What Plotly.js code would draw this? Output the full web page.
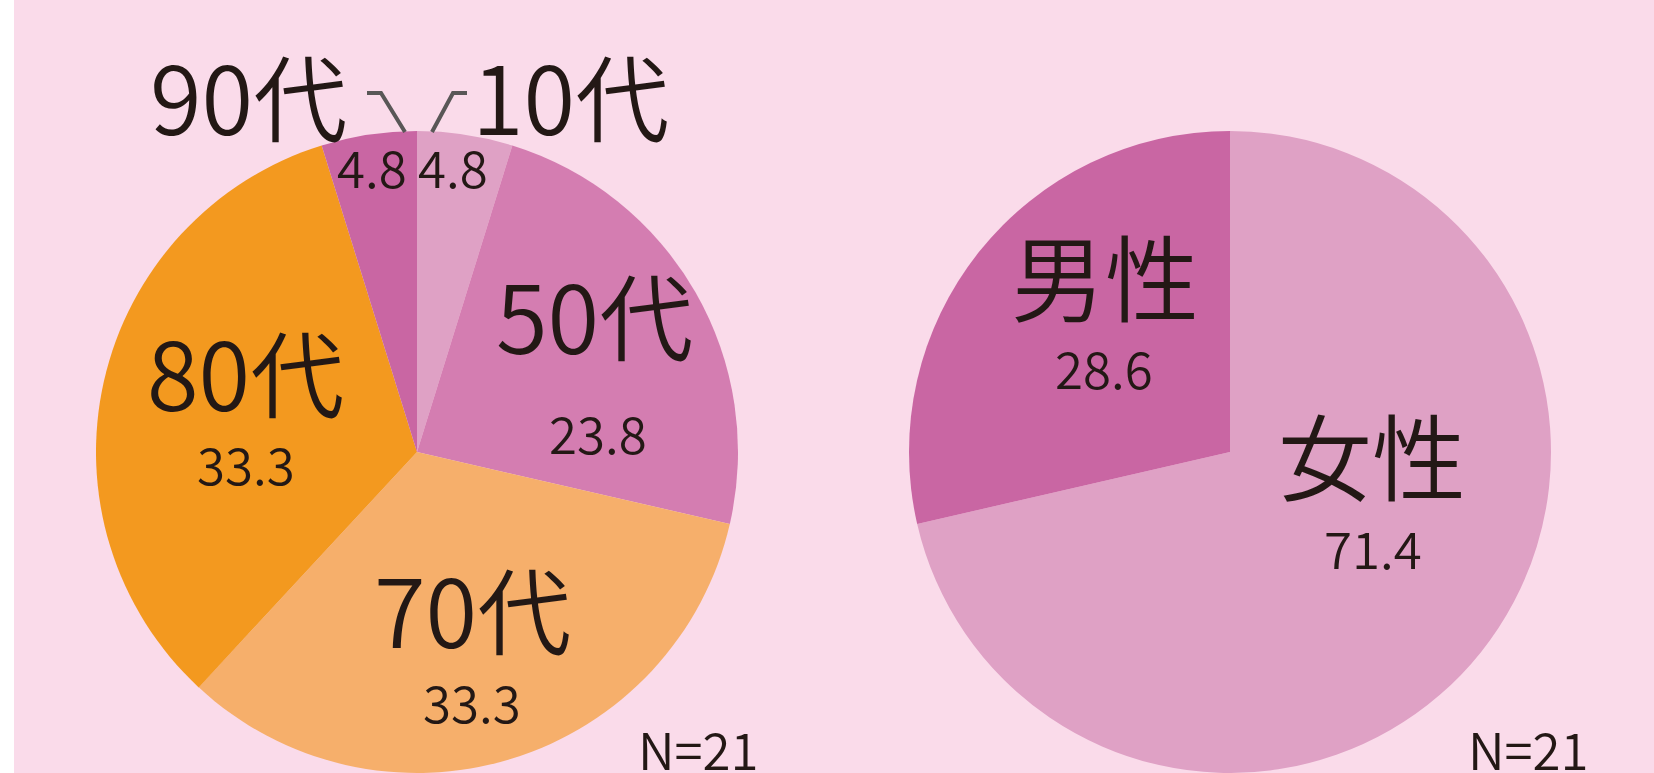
<!DOCTYPE html>
<html>
<head>
<meta charset="utf-8">
<script src="https://cdn.plot.ly/plotly-3.0.1.min.js"></script>
<style>
html,body{margin:0;padding:0;overflow:hidden;background:#ffffff;}
#chart{width:1654px;height:773px;}
</style>
</head>
<body>
<div id="chart"></div>
<script>
// ---- data ----
const ageLabels = ["10代", "50代", "70代", "80代", "90代"];
const ageValues = [4.8, 23.8, 33.3, 33.3, 4.8];
const sexLabels = ["女性", "男性"];
const sexValues = [71.4, 28.6];
const sampleNote = "N=21";

// ---- styles ----
const W = 1654, H = 773;
const ageColors = ["#DFA1C5", "#D47DB1", "#F6AF6B", "#F3991F", "#C966A3"];
const sexColors = ["#DFA1C5", "#C966A3"];
const bg = "#FADBEA";
const ink = "#231815";
const FONT = "Noto Sans CJK JP, Noto Sans, sans-serif";
const px = x => x / W;
const py = y => 1 - y / H;

const traces = [
  {
    type: "pie", labels: ageLabels, values: ageValues, sort: false,
    direction: "clockwise", rotation: 0,
    marker: {colors: ageColors, line: {width: 0}},
    textinfo: "none", hoverinfo: "label+value", showlegend: false,
    domain: {x: [px(96), px(738)], y: [0, py(131)]}
  },
  {
    type: "pie", labels: sexLabels, values: sexValues, sort: false,
    direction: "clockwise", rotation: 0,
    marker: {colors: sexColors, line: {width: 0}},
    textinfo: "none", hoverinfo: "label+value", showlegend: false,
    domain: {x: [px(909), px(1551)], y: [0, py(131)]}
  }
];

// label placement (pixel centres) : [text, x, y, size]
const BIG = 94, SMALL = 51;
const labelPos = [
  [ageLabels[0], 570, 94, BIG],
  [ageLabels[4], 248, 94, BIG],
  [ageValues[4].toFixed(1), 372, 166, SMALL],
  [ageValues[0].toFixed(1), 453, 166, SMALL],
  [ageLabels[1], 594, 313, BIG],
  [ageValues[1].toFixed(1), 598, 432, SMALL],
  [ageLabels[3], 245, 370, BIG],
  [ageValues[3].toFixed(1), 246, 463, SMALL],
  [ageLabels[2], 473, 607, BIG],
  [ageValues[2].toFixed(1), 472, 701, SMALL],
  [sexLabels[1], 1105, 274, BIG],
  [sexValues[1].toFixed(1), 1104, 367, SMALL],
  [sexLabels[0], 1372, 453, BIG],
  [sexValues[0].toFixed(1), 1373, 547, SMALL],
  [sampleNote, 698, 748, SMALL],
  [sampleNote, 1528, 748, SMALL]
];
const annotations = labelPos.map(([t, x, y, s]) => ({
  text: t, xref: "paper", yref: "paper",
  x: px(x), y: py(y), xanchor: "center", yanchor: "middle",
  showarrow: false, font: {family: FONT, size: s, color: ink, weight: 350}
}));

const leaderPath = pts => "M " + pts.map(p => px(p[0]) + "," + py(p[1])).join(" L ");
const shapes = [
  {type: "rect", xref: "paper", yref: "paper", x0: px(14), x1: 1, y0: 0, y1: 1,
   fillcolor: bg, line: {width: 0}, layer: "below"},
  {type: "path", xref: "paper", yref: "paper",
   path: leaderPath([[367, 93], [381, 93], [405, 132]]),
   line: {color: "#595757", width: 4}},
  {type: "path", xref: "paper", yref: "paper",
   path: leaderPath([[467, 93], [453, 93], [432, 132]]),
   line: {color: "#595757", width: 4}}
];

Plotly.newPlot("chart", traces, {
  width: W, height: H,
  margin: {l: 0, r: 0, t: 0, b: 0},
  paper_bgcolor: "#ffffff", plot_bgcolor: "rgba(0,0,0,0)",
  showlegend: false,
  shapes: shapes, annotations: annotations
}, {displayModeBar: false, staticPlot: true});
</script>
</body>
</html>
